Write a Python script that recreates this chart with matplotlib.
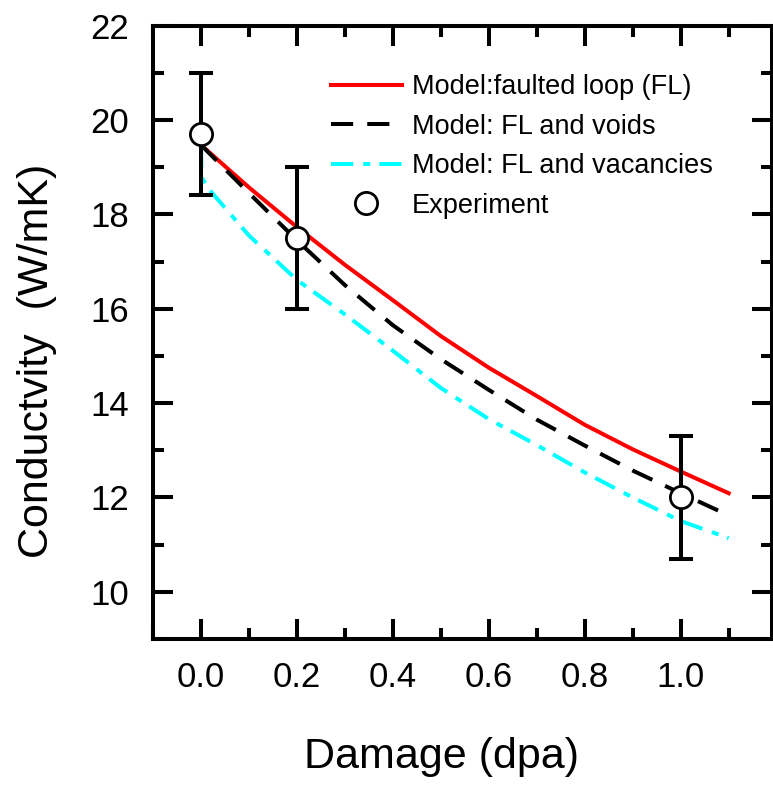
"""Thermal conductivity vs damage: model curves and experiment."""

import matplotlib
matplotlib.use("Agg")
import matplotlib.pyplot as plt
from matplotlib.ticker import MultipleLocator, FormatStrFormatter

plt.rcParams["font.family"] = ["Liberation Sans", "DejaVu Sans"]

# model curves
dpa = [0.0, 0.1, 0.2, 0.3, 0.4, 0.5, 0.6, 0.7, 0.8, 0.9, 1.0, 1.1]
k_faulted_loop = [19.47, 18.57, 17.73, 16.93, 16.18, 15.42, 14.75, 14.15, 13.54, 13.02, 12.55, 12.09]
k_fl_voids = [19.47, 18.45, 17.45, 16.50, 15.65, 14.93, 14.28, 13.65, 13.10, 12.57, 12.09, 11.62]

dpa_vac = [0.0, 0.001, 0.021, 0.1, 0.2, 0.3, 0.4, 0.5, 0.6, 0.7, 0.8, 0.9, 1.0, 1.1]
k_fl_vacancies = [19.47, 18.78, 18.48, 17.55, 16.61, 15.88, 15.11, 14.32, 13.66, 13.11, 12.53, 12.0, 11.5, 11.14]

# experiment
exp_dpa = [0.0, 0.2, 1.0]
exp_k = [19.7, 17.5, 12.0]
exp_err = [1.3, 1.5, 1.3]

LW = 2.9

fig = plt.figure(figsize=(7.73, 7.86), dpi=100)
ax = fig.add_axes([0.198, 0.187, 0.8005, 0.7804])

ax.plot(dpa, k_faulted_loop, color="#ff0000", lw=LW, label="Model:faulted loop (FL)")
ax.plot(dpa, k_fl_voids, color="black", lw=LW, linestyle=(0, (5.5, 3.5)),
        label="Model: FL and voids")
ax.plot(dpa_vac, k_fl_vacancies, color="#00ffff", lw=LW, linestyle=(0, (5.5, 2.5, 1.75, 2.25)),
        label="Model: FL and vacancies")

ax.errorbar(exp_dpa, exp_k, yerr=exp_err, fmt="none", ecolor="black",
            elinewidth=LW, capsize=8.3, capthick=LW, zorder=4)
ax.plot(exp_dpa, exp_k, "o", ms=16, mfc="white", mec="black", mew=2.0,
        zorder=5, label="Experiment")

ax.set_xlim(-0.1, 1.19)
ax.set_ylim(9, 22)
ax.xaxis.set_major_locator(MultipleLocator(0.2))
ax.xaxis.set_minor_locator(MultipleLocator(0.1))
ax.xaxis.set_major_formatter(FormatStrFormatter("%.1f"))
ax.yaxis.set_major_locator(MultipleLocator(2))
ax.yaxis.set_minor_locator(MultipleLocator(1))
ax.yaxis.set_major_formatter(FormatStrFormatter("%d"))

ax.tick_params(which="both", direction="in", top=True, right=True, width=LW, labelsize=25)
ax.tick_params(which="major", length=14.4)
ax.tick_params(which="minor", length=7.7)
ax.tick_params(axis="x", pad=16)
ax.tick_params(axis="y", pad=17)
for spine in ax.spines.values():
    spine.set_linewidth(LW)

fig.text(441 / 773, 1 - 768 / 786, "Damage (dpa)", fontsize=31, ha="center", va="baseline")
fig.text(37 / 773, 1 - 361 / 786, "Conductvity  (W/mK)", fontsize=31, rotation=90,
         ha="center", va="center")

ax.legend(loc="upper left", bbox_to_anchor=(0.287, 0.921), frameon=False, fontsize=19.5,
          borderpad=0, borderaxespad=0, handlelength=2.62, handletextpad=0.37,
          labelspacing=0.5, numpoints=1)

fig.savefig("out.png", dpi=100)
